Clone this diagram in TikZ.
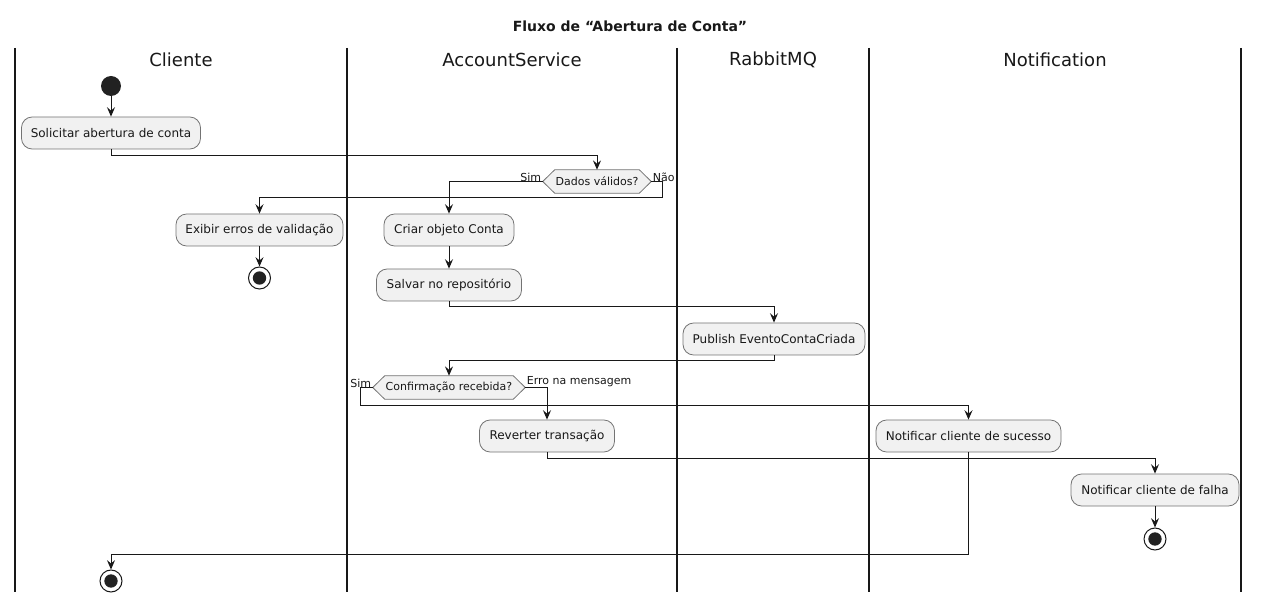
\documentclass[tikz,border=0pt]{standalone}
\usepackage{fontspec}
\setmainfont{DejaVu Sans}
\usetikzlibrary{arrows.meta}
\pgfdeclarelayer{background}
\pgfsetlayers{background,main}
\definecolor{actfill}{HTML}{F1F1F1}
\definecolor{ink}{HTML}{181818}
\definecolor{dark}{HTML}{222222}
\tikzset{
  act/.style={draw=black!55, line width=0.6pt, fill=actfill, rounded corners=8pt,
    minimum height=24pt, inner xsep=0pt, font=\fontsize{9}{11}\selectfont, text=ink},
  dec/.style={minimum height=17.25pt, inner sep=0pt, font=\fontsize{8.25}{10}\selectfont, text=ink},
  hex/.style={draw=black!55, line width=0.6pt, fill=actfill},
  arr/.style={draw=ink, line width=0.75pt, -{Stealth[length=7pt,width=6pt,inset=2.5pt]}},
  lbl/.style={font=\fontsize{8.25}{10}\selectfont, inner sep=1pt, text=ink},
  lane/.style={draw=ink, line width=1.5pt},
  lanetitle/.style={font=\fontsize{13.5}{16}\selectfont, text=ink},
  startnode/.style={circle, fill=dark, minimum size=15pt, inner sep=0pt},
  endnode/.style={circle, draw=ink, line width=0.75pt, fill=white, minimum size=16.5pt, inner sep=0pt,
    path picture={\fill[dark] (path picture bounding box.center) circle (5pt);}}
}
\begin{document}
\begin{tikzpicture}[x=0.75pt, y=-0.75pt]
\useasboundingbox (0,0) rectangle (1261,602);
% title
\node[font=\bfseries\fontsize{10.5}{12}\selectfont, text=ink] (title) at (630,26) {Fluxo de “Abertura de Conta”};
% lanes
\foreach \x/\n in {15/l0,347/l1,677/l2,869/l3,1241/l4} {
  \coordinate (\n t) at (\x,48);
  \coordinate (\n b) at (\x,592);
  \draw[lane] (\n t) -- (\n b);
}
\node[lanetitle] (tcli) at (181,60) {Cliente};
\node[lanetitle] (tacc) at (512,60) {AccountService};
\node[lanetitle] (trab) at (773,60) {RabbitMQ};
\node[lanetitle] (tnot) at (1055,60) {Notification};
% nodes
\node[startnode] (start) at (111,86) {};
\node[act, minimum width=134.25pt] (solic) at (111,133) {Solicitar abertura de conta};
\node[dec, minimum width=81pt] (d1) at (597,181.5) {Dados válidos?};
\node[act, minimum width=125.25pt] (exibir) at (259.5,230) {Exibir erros de validação};
\node[endnode] (end1) at (259.5,278) {};
\node[act, minimum width=97.5pt] (criar) at (449,230) {Criar objeto Conta};
\node[act, minimum width=108.75pt] (salvar) at (449,285) {Salvar no repositório};
\node[act, minimum width=136.5pt] (publish) at (774,339) {Publish EventoContaCriada};
\node[dec, minimum width=114pt] (d2) at (449,387.5) {Confirmação recebida?};
\node[act, minimum width=101.25pt] (rev) at (547,436) {Reverter transação};
\node[act, minimum width=138.75pt] (suc) at (968.5,436) {Notificar cliente de sucesso};
\node[act, minimum width=126pt] (falha) at (1155,490) {Notificar cliente de falha};
\node[endnode] (end2) at (1155,539) {};
\node[endnode] (end3) at (111,581) {};
% hexagons
\begin{pgfonlayer}{background}
\foreach \d in {d1,d2} {
  \draw[hex] (\d.west) -- ([xshift=9pt]\d.north west) -- ([xshift=-9pt]\d.north east)
    -- (\d.east) -- ([xshift=-9pt]\d.south east) -- ([xshift=9pt]\d.south west) -- cycle;
}
\end{pgfonlayer}
% labels
\node[lbl, anchor=south east] (ls1) at ([yshift=-1pt]d1.west) {Sim};
\node[lbl, anchor=south west] (ln1) at ([yshift=-1pt]d1.east) {Não};
\node[lbl, anchor=south east] (ls2) at ([yshift=-1pt]d2.west) {Sim};
\node[lbl, anchor=south west] (le2) at ([yshift=-1pt]d2.east) {Erro na mensagem};
% connectors
\draw[arr] (start) -- (solic);
\draw[arr] (solic.south) -- ++(0,6) -| (d1.north);
\draw[arr] (d1.west) -| (criar.north);
\draw[arr] (d1.east) -- ++(11,0) -- ++(0,16) -| (exibir.north);
\draw[arr] (exibir) -- (end1);
\draw[arr] (criar) -- (salvar);
\draw[arr] (salvar.south) -- ++(0,5) -| (publish.north);
\draw[arr] (publish.south) -- ++(0,5) -| (d2.north);
\draw[arr] (d2.west) -- ++(-12,0) -- ++(0,18) -| (suc.north);
\draw[arr] (d2.east) -| (rev.north);
\draw[arr] (rev.south) -- ++(0,6) -| (falha.north);
\draw[arr] (falha) -- (end2);
\draw[arr] (suc.south) -- ++(0,102) -| (end3.north);
\end{tikzpicture}
\end{document}
